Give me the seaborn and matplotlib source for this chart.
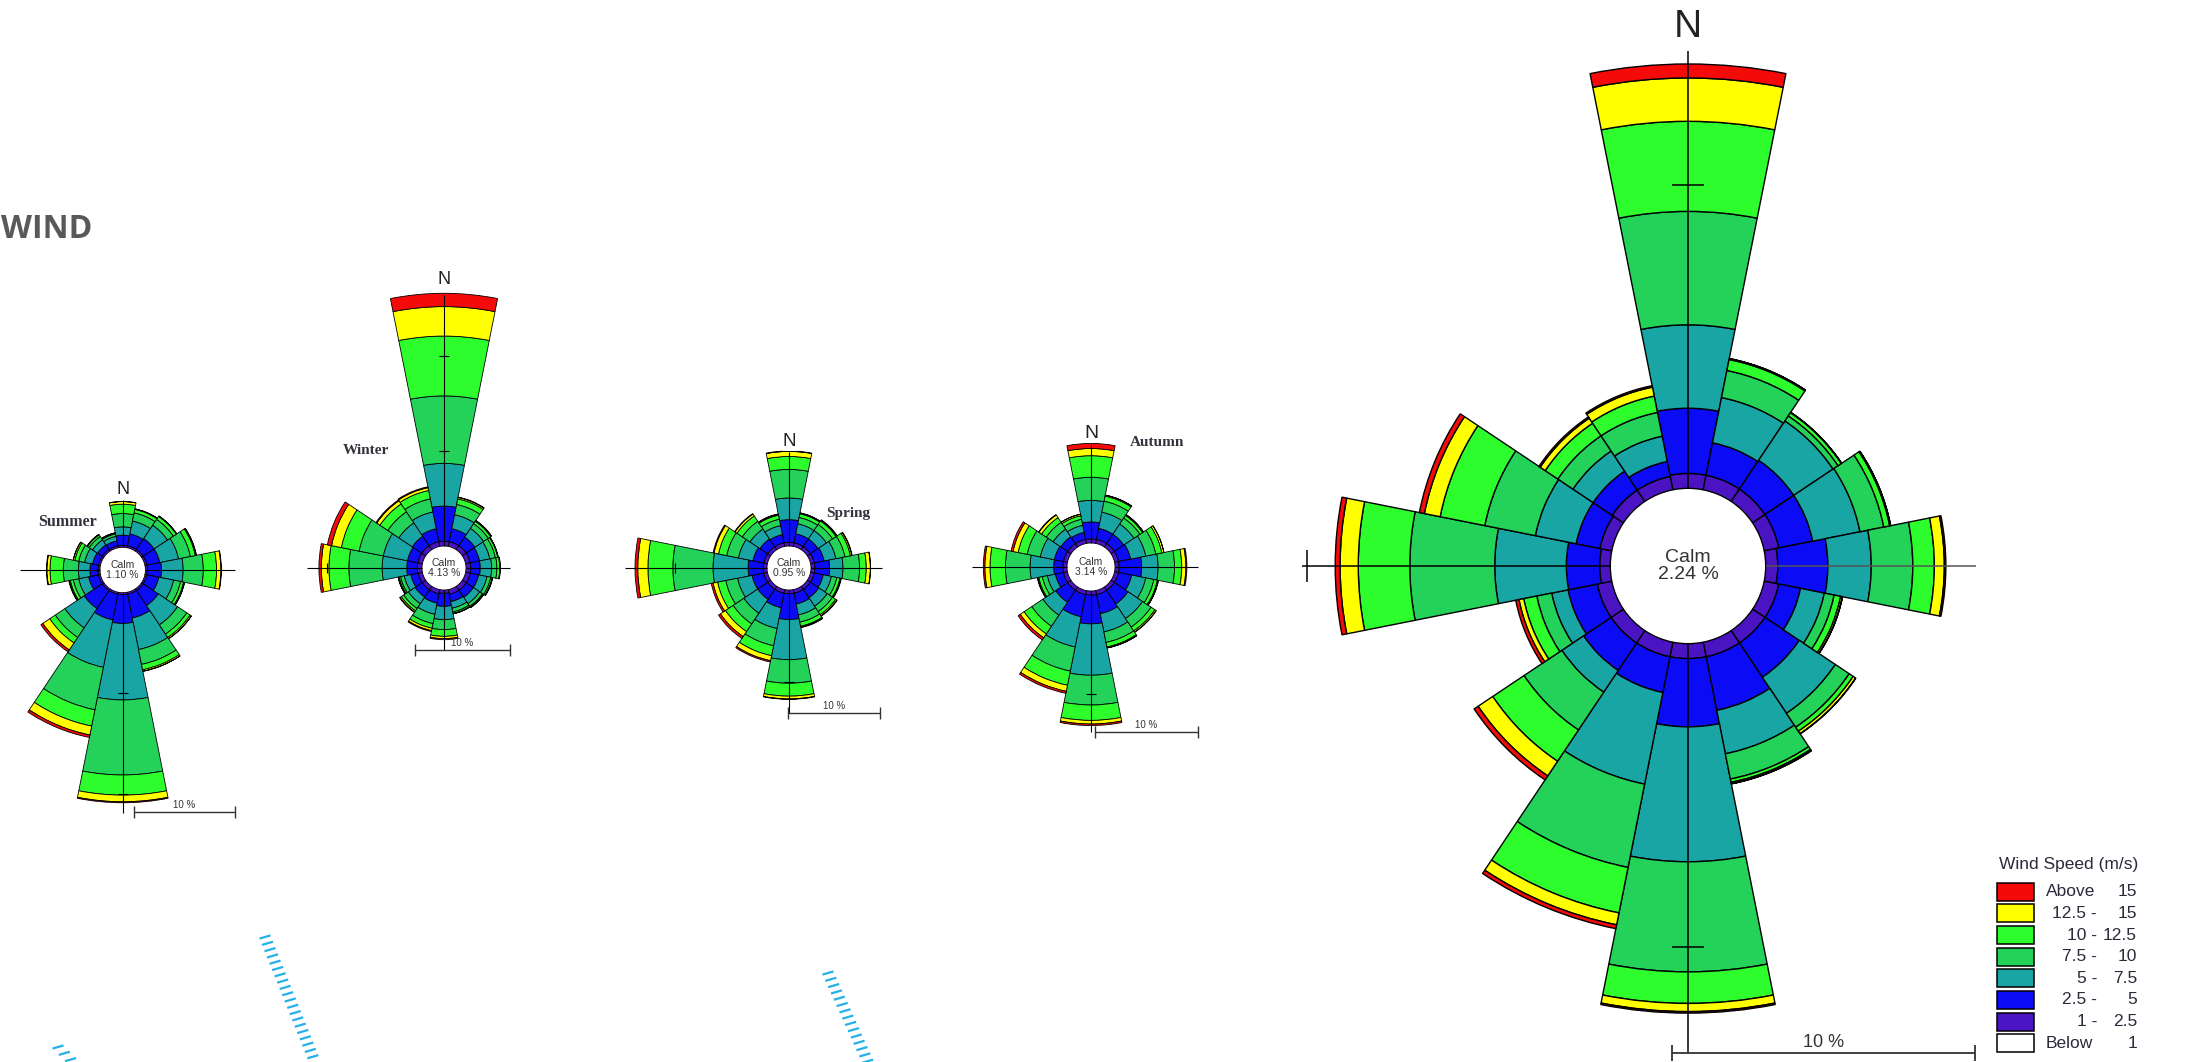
import numpy as np
import matplotlib
matplotlib.use("Agg")
import matplotlib.pyplot as plt
import seaborn as sns
from matplotlib.patches import Rectangle
from matplotlib.collections import LineCollection

# ------------------------------------------------------------------ data
DIRECTIONS = ["N", "NNE", "NE", "ENE", "E", "ESE", "SE", "SSE",
              "S", "SSW", "SW", "WSW", "W", "WNW", "NW", "NNW"]
SPEED_BINS = ["1 - 2.5", "2.5 - 5", "5 - 7.5", "7.5 - 10",
              "10 - 12.5", "12.5 - 15", "Above 15"]
BIN_COLORS = ["#4b14c2", "#0b0bf5", "#1aa5a5", "#24d25a",
              "#2dfc2d", "#ffff00", "#f50a0a"]
LEGEND_LEFT = ["Above", "12.5 -", "10 -", "7.5 -", "5 -", "2.5 -", "1 -", "Below"]
LEGEND_RIGHT = ["15", "15", "12.5", "10", "7.5", "5", "2.5", "1"]
LEGEND_COLORS = ["#f50a0a", "#ffff00", "#2dfc2d", "#24d25a",
                 "#1aa5a5", "#0b0bf5", "#4b14c2", "#ffffff"]

SEASONS = ["Summer", "Winter", "Spring", "Autumn", "Annual"]
CALM_PCT = [1.10, 4.13, 0.95, 3.14, 2.24]

# frequency (%) per direction (rows) and speed bin (columns, low -> high)
SUMMER = [
    [0.20, 1.00, 0.83, 1.32, 0.93, 0.26, 0.00],
    [0.20, 1.20, 1.30, 0.83, 0.35, 0.05, 0.00],
    [0.20, 1.30, 1.60, 0.70, 0.35, 0.05, 0.00],
    [0.20, 1.30, 1.90, 1.20, 0.50, 0.10, 0.00],
    [0.20, 1.40, 2.15, 2.00, 1.32, 0.43, 0.05],
    [0.20, 1.20, 1.50, 0.70, 0.30, 0.10, 0.00],
    [0.20, 1.80, 2.30, 1.10, 0.40, 0.15, 0.00],
    [0.20, 2.40, 3.20, 1.50, 0.55, 0.15, 0.00],
    [0.20, 2.85, 7.60, 7.45, 2.00, 0.66, 0.10],
    [0.20, 2.60, 4.80, 4.30, 1.65, 0.90, 0.25],
    [0.20, 2.15, 2.30, 1.15, 0.66, 0.83, 0.23],
    [0.20, 1.00, 1.00, 0.55, 0.30, 0.10, 0.05],
    [0.20, 0.80, 1.15, 1.50, 1.32, 0.30, 0.05],
    [0.20, 0.60, 0.80, 0.60, 0.40, 0.15, 0.00],
    [0.20, 0.55, 0.60, 0.40, 0.20, 0.05, 0.00],
    [0.20, 0.50, 0.45, 0.25, 0.10, 0.00, 0.00],
]
WINTER = [
    [0.50, 3.70, 4.50, 7.10, 6.30, 3.10, 1.40],
    [0.50, 1.40, 1.50, 1.10, 0.60, 0.15, 0.05],
    [0.50, 1.10, 1.10, 0.60, 0.30, 0.10, 0.00],
    [0.50, 1.00, 1.10, 0.60, 0.25, 0.05, 0.00],
    [0.50, 1.00, 1.20, 0.55, 0.30, 0.05, 0.00],
    [0.50, 0.90, 0.90, 0.40, 0.15, 0.05, 0.00],
    [0.50, 0.90, 0.80, 0.35, 0.10, 0.05, 0.00],
    [0.50, 0.80, 0.70, 0.40, 0.15, 0.05, 0.00],
    [0.35, 1.37, 1.40, 1.05, 0.71, 0.24, 0.11],
    [0.45, 1.00, 1.20, 1.00, 0.50, 0.25, 0.10],
    [0.45, 0.90, 0.85, 0.60, 0.30, 0.15, 0.05],
    [0.45, 0.80, 0.70, 0.40, 0.15, 0.10, 0.00],
    [0.50, 1.10, 2.60, 3.50, 2.10, 0.80, 0.25],
    [0.50, 1.10, 2.60, 2.60, 1.90, 1.05, 0.45],
    [0.50, 1.20, 1.70, 1.40, 1.00, 0.40, 0.10],
    [0.50, 1.40, 1.80, 1.40, 0.90, 0.30, 0.10],
]
SPRING = [
    [0.40, 2.45, 2.35, 3.10, 1.40, 0.55, 0.05],
    [0.40, 1.00, 1.10, 0.70, 0.40, 0.10, 0.00],
    [0.40, 1.00, 1.10, 0.80, 0.45, 0.10, 0.05],
    [0.40, 1.10, 1.30, 1.00, 0.60, 0.15, 0.05],
    [0.43, 1.59, 1.45, 1.80, 0.72, 0.44, 0.03],
    [0.40, 1.00, 0.90, 0.60, 0.35, 0.10, 0.05],
    [0.40, 1.10, 1.10, 0.70, 0.40, 0.15, 0.05],
    [0.40, 1.20, 1.20, 0.80, 0.45, 0.10, 0.05],
    [0.40, 2.80, 4.35, 2.55, 1.40, 0.30, 0.05],
    [0.40, 1.60, 2.30, 1.90, 1.10, 0.55, 0.15],
    [0.40, 1.30, 1.80, 1.40, 1.00, 0.65, 0.25],
    [0.40, 1.30, 1.60, 1.30, 0.90, 0.50, 0.20],
    [0.40, 1.65, 3.80, 4.35, 2.70, 1.10, 0.30],
    [0.40, 1.20, 1.60, 1.30, 0.90, 0.50, 0.10],
    [0.40, 1.00, 1.30, 1.00, 0.70, 0.25, 0.05],
    [0.40, 0.90, 1.00, 0.70, 0.45, 0.10, 0.05],
]
AUTUMN = [
    [0.40, 1.65, 2.10, 2.25, 2.10, 0.70, 0.50],
    [0.40, 1.10, 1.60, 1.10, 0.50, 0.10, 0.00],
    [0.40, 1.10, 1.20, 0.70, 0.30, 0.10, 0.00],
    [0.40, 1.20, 1.50, 1.00, 0.60, 0.20, 0.00],
    [0.40, 2.20, 1.60, 1.60, 0.70, 0.40, 0.10],
    [0.40, 1.30, 1.40, 0.80, 0.35, 0.10, 0.00],
    [0.40, 1.60, 1.70, 1.00, 0.45, 0.15, 0.00],
    [0.40, 1.90, 1.80, 1.05, 0.45, 0.10, 0.00],
    [0.40, 2.80, 5.00, 2.90, 1.50, 0.35, 0.15],
    [0.40, 2.20, 3.00, 2.40, 1.40, 0.60, 0.20],
    [0.40, 1.40, 1.50, 1.30, 0.90, 0.45, 0.25],
    [0.40, 0.80, 0.80, 0.50, 0.35, 0.10, 0.05],
    [0.40, 0.90, 2.30, 2.40, 1.50, 0.50, 0.15],
    [0.40, 0.90, 1.40, 1.30, 0.90, 0.50, 0.20],
    [0.40, 0.80, 0.90, 0.80, 0.55, 0.30, 0.05],
    [0.40, 0.70, 0.70, 0.60, 0.35, 0.15, 0.00],
]
ANNUAL = [
    [0.49, 2.15, 2.75, 3.74, 2.97, 1.43, 0.46],
    [0.49, 1.09, 1.52, 0.91, 0.37, 0.03, 0.00],
    [0.49, 1.14, 1.56, 0.20, 0.13, 0.01, 0.00],
    [0.49, 1.14, 1.59, 0.80, 0.20, 0.03, 0.00],
    [0.40, 1.65, 1.43, 1.37, 0.71, 0.33, 0.05],
    [0.49, 0.73, 0.80, 0.33, 0.22, 0.06, 0.00],
    [0.49, 1.36, 1.43, 0.55, 0.16, 0.10, 0.00],
    [0.49, 1.80, 1.46, 0.85, 0.11, 0.05, 0.00],
    [0.49, 2.25, 4.45, 3.63, 1.04, 0.27, 0.05],
    [0.49, 1.20, 3.08, 2.80, 1.53, 0.40, 0.13],
    [0.49, 1.09, 0.86, 1.50, 1.24, 0.58, 0.16],
    [0.49, 0.98, 0.55, 0.50, 0.44, 0.16, 0.11],
    [0.35, 1.10, 2.36, 2.80, 1.70, 0.60, 0.16],
    [0.40, 0.80, 1.37, 1.70, 1.50, 0.53, 0.17],
    [0.45, 0.75, 0.80, 0.60, 0.50, 0.20, 0.05],
    [0.45, 0.50, 0.85, 0.80, 0.55, 0.30, 0.05],
]
ROSE_DATA = [SUMMER, WINTER, SPRING, AUTUMN, ANNUAL]

# ------------------------------------------------------------------ layout (pixels)
W, H = 2196, 1062
LAYOUT = [
    dict(cx=122.7, cy=570, r0=22.7, k=10.07, R=24, ext=(102.7, 112.3, 70, 243),
         ticks=[("S", 10), ("S", 20)], n=(122.7, 490, 13), lab=(68, 522, 11.5),
         bar=(134, 811.7), cfs=7.5, lw=0.6, tl=5, small=True),
    dict(cx=444, cy=568, r0=22, k=9.5, R=30, ext=(137.3, 66, 273, 82),
         ticks=[("N", 10), ("N", 20), ("W", 10)], n=(444, 280, 13), lab=(366, 451, 11),
         bar=(415, 650), cfs=7.5, lw=0.6, tl=5, small=True),
    dict(cx=789, cy=568, r0=22, k=9.23, R=17.5, ext=(164, 92.7, 116, 145),
         ticks=[("S", 10), ("W", 10)], n=(789, 441.7, 13.5), lab=(848, 513, 11),
         bar=(787.7, 713), cfs=7.5, lw=0.6, tl=5, small=True),
    dict(cx=1091, cy=567, r0=24, k=10.27, R=16.5, ext=(119.3, 107, 122, 165),
         ticks=[("S", 10)], n=(1091, 433.3, 14), lab=(1157, 442, 11),
         bar=(1095, 731.7), cfs=7.5, lw=0.6, tl=5, small=True),
    dict(cx=1688, cy=566, r0=77.7, k=30.33, R=17.5, ext=(386, 288, 515, 487),
         ticks=[("N", 10), ("S", 10), ("W", 10)], n=(1688, 27, 28), lab=None,
         bar=(1672, 1053), cfs=14, lw=1.0, tl=16, small=False),
]

# ------------------------------------------------------------------ style
sns.set_theme(style="white")
plt.rcParams["font.family"] = ["Liberation Sans", "DejaVu Sans"]
palette = sns.color_palette(BIN_COLORS)

fig = plt.figure(figsize=(W / 100, H / 100), dpi=100)
fig.patch.set_facecolor("white")

theta = np.deg2rad(np.arange(len(DIRECTIONS)) * 22.5)
width = np.deg2rad(22.5)

for data, L in zip(ROSE_DATA, LAYOUT):
    k, R = L["k"], L["R"]
    half = R * k
    ax = fig.add_axes([(L["cx"] - half) / W, 1 - (L["cy"] + half) / H,
                       2 * half / W, 2 * half / H], projection="polar")
    ax.set_theta_zero_location("N")
    ax.set_theta_direction(-1)
    ax.set_ylim(0, R)
    ax.axis("off")
    vals = np.asarray(data, dtype=float)
    bottom = np.full(len(DIRECTIONS), L["r0"] / k)
    for j in range(len(SPEED_BINS)):
        ax.bar(theta, vals[:, j], width=width, bottom=bottom, color=palette[j],
               edgecolor="black", linewidth=L["lw"], align="center")
        bottom = bottom + vals[:, j]

# ------------------------------------------------------------------ overlay (pixel coordinates)
ov = fig.add_axes([0, 0, 1, 1])
ov.set_xlim(0, W)
ov.set_ylim(H, 0)
ov.axis("off")
ov.patch.set_alpha(0)

for season, calm, L in zip(SEASONS, CALM_PCT, LAYOUT):
    cx, cy, r0, k = L["cx"], L["cy"], L["r0"], L["k"]
    el, er, et, eb = L["ext"]
    lw_line = 1.1 if not L["small"] else 0.8
    kw = dict(color="black", lw=lw_line, solid_capstyle="butt", zorder=3)
    ov.plot([cx - el, cx - r0], [cy, cy], **kw)
    right_kw = dict(kw)
    if not L["small"]:
        right_kw["color"] = "#555555"
    ov.plot([cx + r0, cx + er], [cy, cy], **right_kw)
    ov.plot([cx, cx], [cy - et, cy - r0], **kw)
    ov.plot([cx, cx], [cy + r0, cy + eb], **kw)
    tl = L["tl"]
    for d, p in L["ticks"]:
        dist = r0 + p * k
        if d == "N":
            ov.plot([cx - tl, cx + tl], [cy - dist] * 2, **kw)
        elif d == "S":
            ov.plot([cx - tl, cx + tl], [cy + dist] * 2, **kw)
        elif d == "W":
            ov.plot([cx - dist] * 2, [cy - tl, cy + tl], **kw)
        else:
            ov.plot([cx + dist] * 2, [cy - tl, cy + tl], **kw)

    # calm text
    ov.text(cx, cy, f"Calm\n{calm:.2f} %", ha="center", va="center",
            fontsize=L["cfs"], color="#333333", linespacing=1.0, zorder=4)

    # north label
    nx, ny, nfs = L["n"]
    bbox = dict(facecolor="white", edgecolor="none", pad=0.6) if L["small"] else None
    ov.text(nx, ny, "N", ha="center", va="center", fontsize=nfs, color="#222222",
            bbox=bbox, zorder=5)

    # season label
    if L["lab"] is not None:
        lx, ly, lfs = L["lab"]
        ov.text(lx, ly, season, ha="center", va="center",
                fontsize=lfs, fontweight="bold", family=["Liberation Serif", "DejaVu Serif"],
                color="#33333f", zorder=5)

    # scale bar (10 %)
    bx, by = L["bar"]
    bl = 10 * k
    skw = dict(color="#333333", lw=1.0 if L["small"] else 1.3, solid_capstyle="butt", zorder=3)
    btl = 6 if L["small"] else 8
    ov.plot([bx, bx + bl], [by, by], **skw)
    ov.plot([bx, bx], [by - btl, by + btl], **skw)
    ov.plot([bx + bl, bx + bl], [by - btl, by + btl], **skw)
    ov.text(bx + bl / 2, by - 2, "10 %", ha="center", va="bottom",
            fontsize=7 if L["small"] else 13, color="#333333", zorder=5)

# title
ov.text(1, 229, "WIND", ha="left", va="center", fontsize=23, fontweight="bold",
        family=["Open Sans", "DejaVu Sans"], color="#58595b")

# legend
ov.text(1999, 865, "Wind Speed (m/s)", ha="left", va="center", fontsize=12.5, color="#2a2a3a")
for i, (lt, rt, col) in enumerate(zip(LEGEND_LEFT, LEGEND_RIGHT, LEGEND_COLORS)):
    yc = 891.7 + i * 21.65
    ov.add_patch(Rectangle((1997, yc - 9), 37, 18, facecolor=col, edgecolor="black",
                           lw=1.1, zorder=4))
    if lt in ("Above", "Below"):
        ov.text(2046, yc, lt, ha="left", va="center", fontsize=12.5, color="#2a2a3a")
    else:
        ov.text(2097, yc, lt, ha="right", va="center", fontsize=12.5, color="#2a2a3a")
    ov.text(2137, yc, rt, ha="right", va="center", fontsize=12.5, color="#2a2a3a")

# decorative blue hatch strips along the bottom edge
STRIPS = [((58, 1047), (73, 1062)), ((265, 937), (315, 1062)), ((828, 973), (868, 1062))]
segs = []
for (x0, y0), (x1, y1) in STRIPS:
    ys = np.arange(y0, y1 + 1, 6.3)
    xs = x0 + (ys - y0) * (x1 - x0) / (y1 - y0)
    for x, y in zip(xs, ys):
        segs.append([(x - 5.5, y + 1.6), (x + 5.5, y - 1.6)])
ov.add_collection(LineCollection(segs, colors="#25b0ea", linewidths=1.6, zorder=2))

fig.savefig("out.png", dpi=100, facecolor="white")
